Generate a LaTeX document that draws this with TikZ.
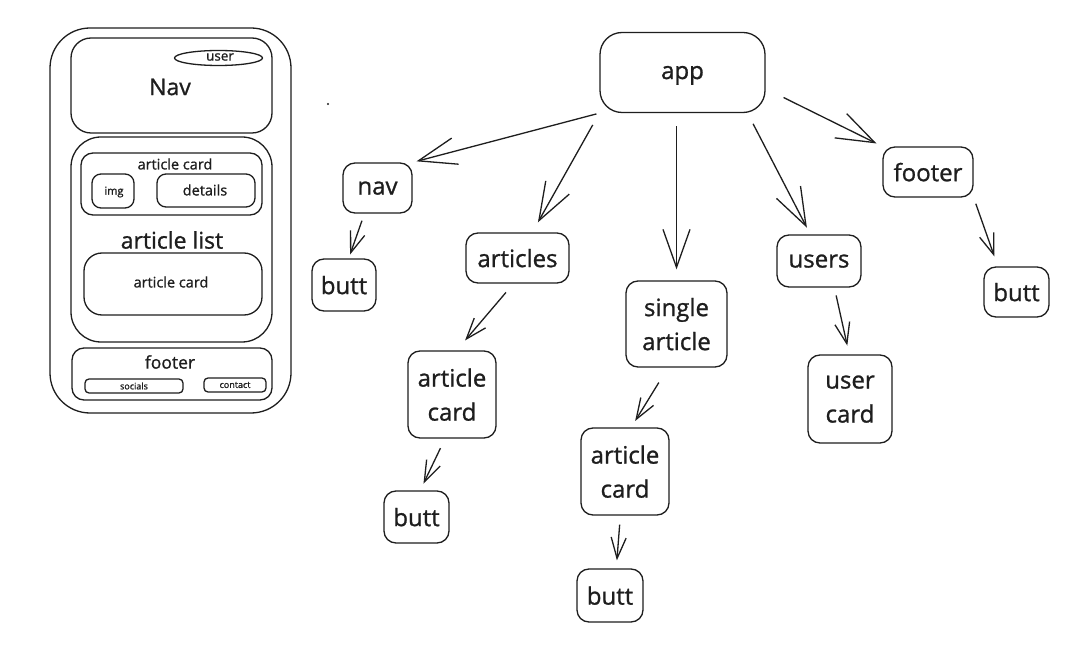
\documentclass[tikz,border=0pt]{standalone}
\usepackage{fontspec}
\setmainfont{Open Sans}[FakeBold=1]
\usetikzlibrary{arrows.meta}
\definecolor{ink}{HTML}{1E1E1E}

\begin{document}
\begin{tikzpicture}[x=1pt, y=-1pt, ink, line width=1.3pt, line join=round,
        box/.style={draw, rounded corners=12pt, align=center, inner sep=0pt,
            text depth=0pt, font=\fontsize{24}{34}\selectfont},
        lbl/.style={inner sep=0pt, font=\fontsize{#1}{#1}\selectfont},
        bigarr/.style={-{Straight Barb[length=38pt, width=27pt]}},
        smallarr/.style={-{Straight Barb[length=21pt, width=15pt]}}]
    \useasboundingbox[fill=white] (0,0) rectangle (1079,652);
    % wireframe
    \draw[rounded corners=40pt] (50,28) rectangle (291,413);
    \draw[rounded corners=20pt] (71,38) rectangle (272,133);
    \draw (218.5,58) ellipse [x radius=44pt, y radius=7.5pt];
    \draw[rounded corners=30pt] (71,137) rectangle (272,342);
    \draw[rounded corners=12pt] (81,153) rectangle (262,215);
    \draw[rounded corners=9pt] (92,174) rectangle (134,208);
    \draw[rounded corners=9pt] (157,174) rectangle (255,207);
    \draw[rounded corners=18pt] (84,253) rectangle (262,315);
    \draw[rounded corners=12pt] (72,348) rectangle (272,400);
    \draw[rounded corners=4pt] (85,379) rectangle (183,393);
    \draw[rounded corners=4pt] (204,378) rectangle (266,392);
    \node[lbl=13.5] (userlbl) at (220,57) {user};
    \node[lbl=23] (navlbl) at (170,87) {Nav};
    \node[lbl=14.5] (cardlbl) at (175,164) {article card};
    \node[lbl=11] (imglbl) at (114,192) {img};
    \node[lbl=14.5] (detlbl) at (205,190) {details};
    \node[lbl=23] (listlbl) at (172,240) {article list};
    \node[lbl=14.5] (cardlblb) at (171,282) {article card};
    \node[lbl=17.5] (footlbl) at (170,362) {footer};
    \node[lbl=9] (soclbl) at (134,386) {socials};
    \node[lbl=9] (conlbl) at (235,385) {contact};
    \fill (328,104) circle (1.2pt);
    % component tree
    \node[box, rounded corners=22pt, minimum width=165pt, minimum height=80pt] (app) at (682.5,72.5) {app};
    \node[box, minimum width=69pt, minimum height=50pt] (nav) at (377.5,188) {nav};
    \node[box, minimum width=64pt, minimum height=52pt] (navbutt) at (344,285) {butt};
    \node[box, minimum width=103pt, minimum height=50pt] (articles) at (517.5,258) {articles};
    \node[box, minimum width=88pt, minimum height=87pt] (listcard) at (452,394.5) {article\\card};
    \node[box, minimum width=65pt, minimum height=52pt] (listbutt) at (416.5,517) {butt};
    \node[box, minimum width=101pt, minimum height=86pt] (single) at (676.5,324) {single\\article};
    \node[box, minimum width=88pt, minimum height=87pt] (singlecard) at (625,471.5) {article\\card};
    \node[box, minimum width=66pt, minimum height=53pt] (singlebutt) at (610,595.5) {butt};
    \node[box, minimum width=84pt, minimum height=52pt] (users) at (819,261) {users};
    \node[box, minimum width=84pt, minimum height=88pt] (usercard) at (850,399) {user\\card};
    \node[box, minimum width=90pt, minimum height=50pt] (footer) at (928,172) {footer};
    \node[box, minimum width=65pt, minimum height=50pt] (footbutt) at (1016.5,292) {butt};
    \foreach \a/\b/\s/\e in {app.south west/nav.north east/3/4,
            app.south west/articles.60/13.5/11.5,
            app.-32/users.108/12/7.5,
            app.-11/footer.north west/20/6.5}
        \draw[bigarr, shorten <=\s pt, shorten >=\e pt] (\a) -- (\b);
    \draw[bigarr, shorten <=13pt, shorten >=11pt] (single.north |- app.south) -- (single.north);
    \foreach \a/\b/\s/\e in {nav.-117/navbutt.80/7.5/4,
            articles.-99/listcard.84/11.5/13,
            listcard.-99/listbutt.82/10.5/7.5,
            single.-101/singlecard.82/17.5/7.5,
            singlecard.-96/singlebutt.77/9/8,
            users.-60/usercard.91/8/9,
            footer.south east/footbutt.126/6.5/10.5}
        \draw[smallarr, shorten <=\s pt, shorten >=\e pt] (\a) -- (\b);
\end{tikzpicture}
\end{document}
